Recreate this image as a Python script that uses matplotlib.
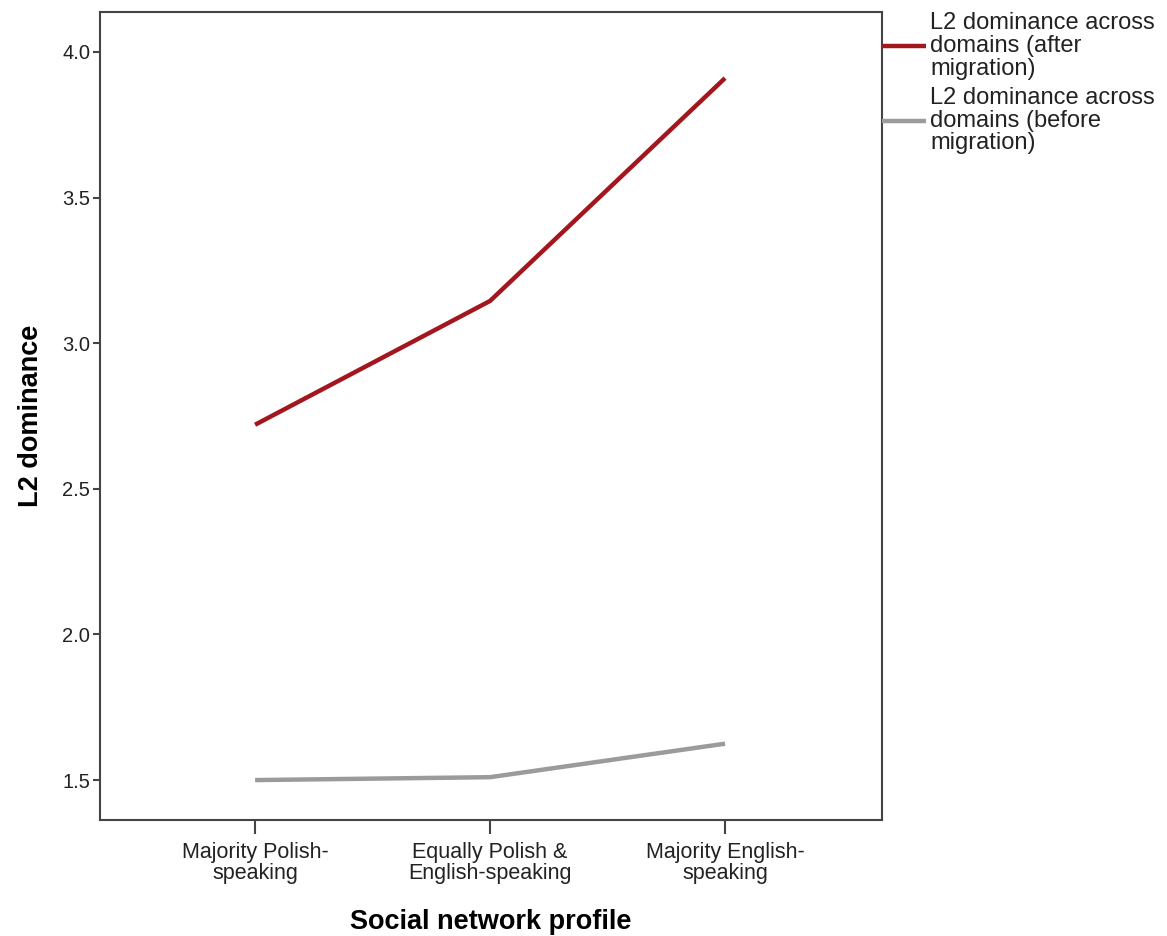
import matplotlib
matplotlib.use("Agg")
import matplotlib.pyplot as plt

# --- data ---
categories = ["Majority Polish-\nspeaking", "Equally Polish &\nEnglish-speaking", "Majority English-\nspeaking"]
after_migration = [2.72, 3.145, 3.91]
before_migration = [1.50, 1.51, 1.625]
series_labels = ["L2 dominance across\ndomains (after\nmigration)",
                 "L2 dominance across\ndomains (before\nmigration)"]
y_ticks = [1.5, 2.0, 2.5, 3.0, 3.5, 4.0]

plt.rcParams['font.family'] = ['Liberation Sans', 'DejaVu Sans']

fig = plt.figure(figsize=(11.67, 9.36), dpi=100)
ax = fig.add_axes([100 / 1167, 1 - 820 / 936, 782 / 1167, 808 / 936])

x = list(range(len(categories)))
ax.plot(x, after_migration, color="#a3161d", lw=3.2, label=series_labels[0], solid_capstyle="butt")
ax.plot(x, before_migration, color="#9b9b9b", lw=3.2, label=series_labels[1], solid_capstyle="butt")

ax.set_xlim(-0.66, 2.668)
ax.set_ylim(1.363, 4.137)
ax.set_xticks(x)
ax.set_xticklabels(categories, fontsize=15.5, color="#222222", linespacing=1.0)
ax.set_yticks(y_ticks)
ax.set_yticklabels([f"{v:.1f}" for v in y_ticks], fontsize=14.5, color="#222222")

ax.tick_params(axis="y", length=5, width=1.5, color="#444444", pad=2)
ax.tick_params(axis="x", length=10, width=1.5, color="#444444", pad=6)
for s in ax.spines.values():
    s.set_color("#444444")
    s.set_linewidth(1.5)

ax.set_xlabel("Social network profile", fontsize=19.5, fontweight="bold", labelpad=18)
ax.set_ylabel("L2 dominance", fontsize=19.5, fontweight="bold", labelpad=13)

leg = ax.legend(loc="upper left", bbox_to_anchor=(1.0, 1.0), frameon=False, fontsize=17,
                handlelength=1.85, handletextpad=0.2, borderaxespad=0, borderpad=0,
                labelspacing=0.3, labelcolor="#222222")
for t in leg.get_texts():
    t.set_linespacing(1.05)

fig.savefig("out.png", dpi=100)
